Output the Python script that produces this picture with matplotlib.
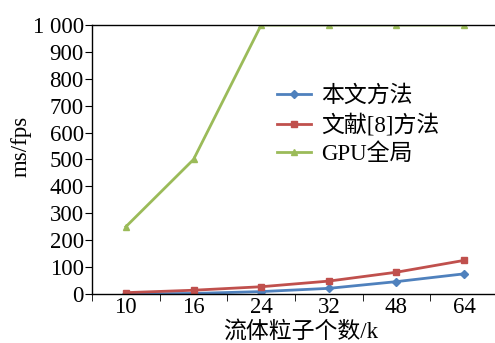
import numpy as np
import matplotlib.pyplot as plt

plt.rcParams['font.family'] = ['Liberation Serif', 'Noto Sans CJK SC']

"""
Data read off the reference
"""
categories = ['10', '16', '24', '32', '48', '64']
ours = [0, 2, 9, 21, 46, 75]
ref8 = [5, 14, 27, 48, 81, 125]
gpu_global = [250, 500, 1000, 1000, 1000, 1000]
yticks = [0, 100, 200, 300, 400, 500, 600, 700, 800, 900, 1000]
ytick_labels = ['0', '100', '200', '300', '400', '500', '600', '700', '800',
                '900', '1 000']

x = np.arange(len(categories))
fs = 16.5

fig = plt.figure(figsize=(4.95, 3.43), dpi=100)
ax = fig.add_axes([92/495., 1 - 294/343., 406/495., 269/343.])

ax.plot(x, ours, color='#4F81BD', marker='D', markersize=4, lw=2,
        label=u'本文方法')
ax.plot(x, ref8, color='#C0504D', marker='s', markersize=5, lw=2,
        label=u'文献[8]方法')
ax.plot(x, gpu_global, color='#9BBB59', marker='^', markersize=5, lw=2,
        label=u'GPU全局')

ax.set_xlim(-0.5, len(categories) - 0.5)
ax.set_ylim(0, 1000)
ax.set_xticks(x)
ax.set_xticklabels(categories)
ax.set_xticks(np.arange(-0.5, len(categories)), minor=True)
ax.tick_params(axis='x', which='major', length=0, labelsize=fs, pad=2)
ax.tick_params(axis='x', which='minor', length=5, direction='out')
ax.set_yticks(yticks)
ax.set_yticklabels(ytick_labels)
ax.tick_params(axis='y', length=5, direction='out', labelsize=fs, pad=1)
ax.spines['right'].set_visible(False)
for s in ['left', 'bottom', 'top']:
    ax.spines[s].set_linewidth(1.0)

ax.set_ylabel('ms/fps', fontsize=fs)
ax.yaxis.set_label_coords(-0.148, 0.55)
ax.set_xlabel(u'流体粒子个数/k', fontsize=fs)
ax.xaxis.set_label_coords(0.515, -0.098)

ax.legend(loc='upper left', bbox_to_anchor=(0.455, 0.775), frameon=False,
          fontsize=fs, handlelength=1.5, handletextpad=0.45,
          labelspacing=0.3, borderpad=0.0, borderaxespad=0.0)

fig.savefig('out.png', dpi=100, facecolor='white')
